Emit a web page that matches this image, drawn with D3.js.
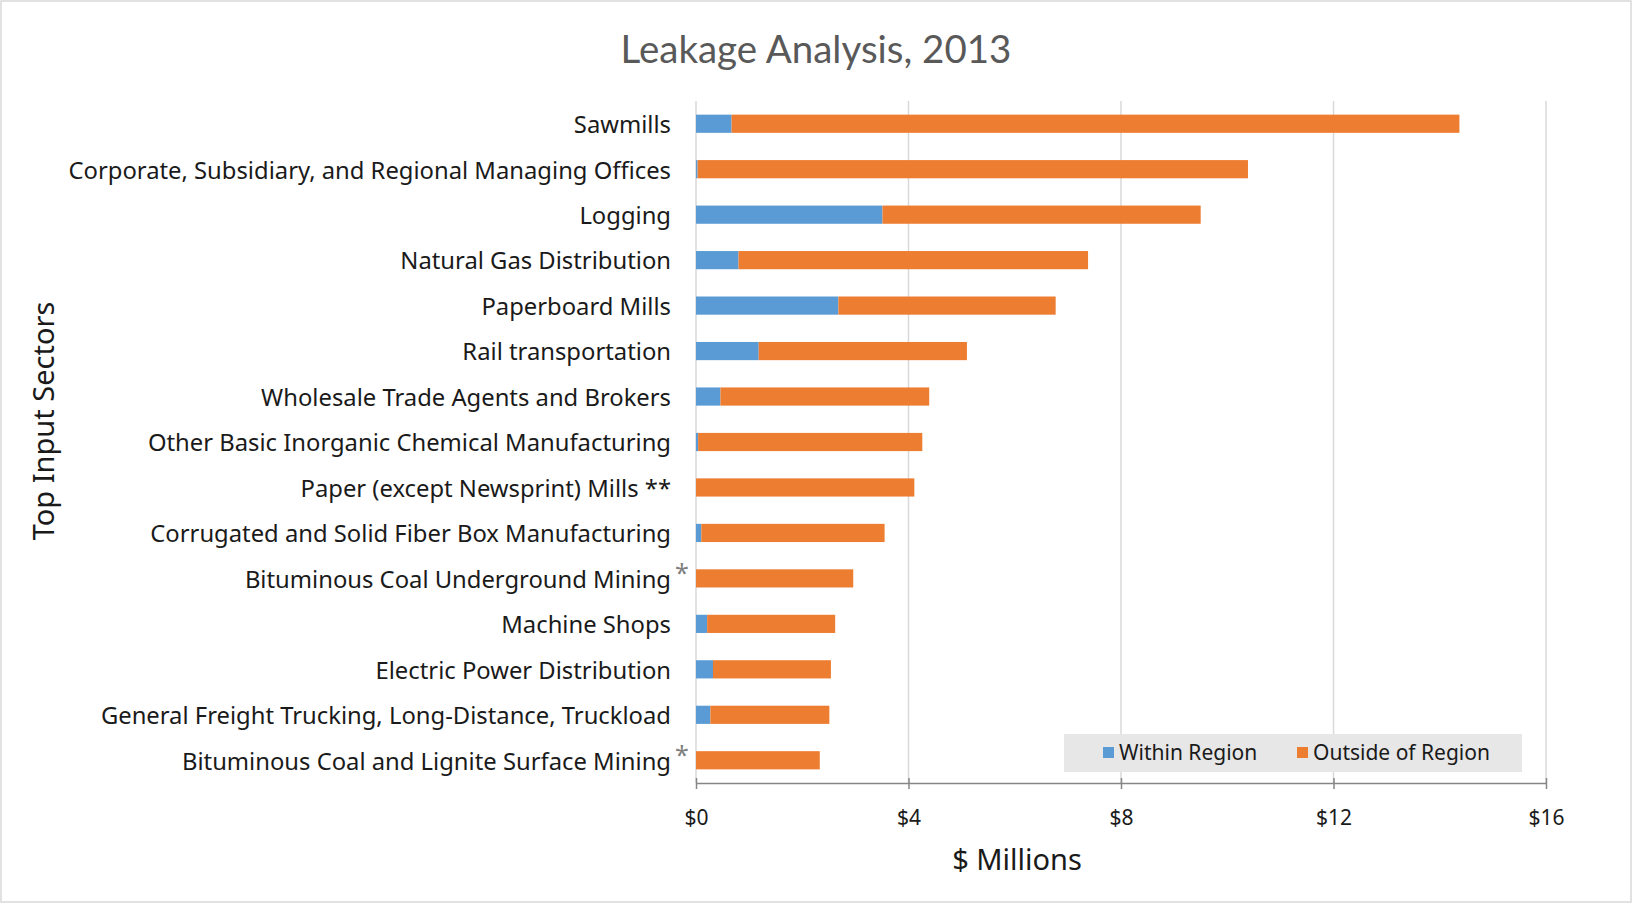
<!DOCTYPE html>
<html>
<head>
<meta charset="utf-8">
<script src="https://cdn.jsdelivr.net/npm/d3@7"></script>
<style>
  body { margin: 0; background: #fff; }
  text { font-family: "Noto Sans", Roboto, sans-serif; }
</style>
</head>
<body>
<div id="chart"></div>
<script>
// data
const sectors = [
  'Sawmills',
  'Corporate, Subsidiary, and Regional Managing Offices',
  'Logging',
  'Natural Gas Distribution',
  'Paperboard Mills',
  'Rail transportation',
  'Wholesale Trade Agents and Brokers',
  'Other Basic Inorganic Chemical Manufacturing',
  'Paper (except Newsprint) Mills',
  'Corrugated and Solid Fiber Box Manufacturing',
  'Bituminous Coal Underground Mining',
  'Machine Shops',
  'Electric Power Distribution',
  'General Freight Trucking, Long-Distance, Truckload',
  'Bituminous Coal and Lignite Surface Mining'
];
const notes = ['', '', '', '', '', '', '', '', '**', '', '*', '', '', '', '*'];
const withinRegion = [0.67, 0.03, 3.51, 0.80, 2.68, 1.18, 0.46, 0.04, 0, 0.10, 0, 0.21, 0.32, 0.27, 0];
const totalLeakage = [14.37, 10.39, 9.50, 7.38, 6.77, 5.10, 4.39, 4.26, 4.11, 3.55, 2.96, 2.62, 2.54, 2.51, 2.33];
const xTicks = [0, 4, 8, 12, 16];
const seriesNames = ['Within Region', 'Outside of Region'];
const colors = ['#5b9bd5', '#ed7d31'];

const W = 1632, H = 903;
const margin = { top: 101, right: 86, bottom: 120, left: 696 };
const width = W - margin.left - margin.right;
const height = H - margin.top - margin.bottom;

const svg = d3.select('#chart').append('svg')
  .attr('width', W)
  .attr('height', H);

svg.append('rect')
  .attr('x', 1).attr('y', 1)
  .attr('width', W - 2).attr('height', H - 2)
  .attr('fill', '#fff')
  .attr('stroke', '#d9d9d9')
  .attr('stroke-width', 1.5);

const g = svg.append('g')
  .attr('transform', `translate(${margin.left},${margin.top})`);

const x = d3.scaleLinear().domain([0, 16]).range([0, width]);
const y = d3.scaleBand().domain(sectors).range([0, height])
  .paddingInner(0.6).paddingOuter(0.3);

// gridlines
g.selectAll('.grid')
  .data(xTicks)
  .enter().append('line')
  .attr('x1', d => x(d)).attr('x2', d => x(d))
  .attr('y1', 0).attr('y2', height)
  .attr('stroke', '#d9d9d9')
  .attr('stroke-width', 1.5);

// stacked bars
const rows = sectors.map((s, i) => ({ sector: s, within: withinRegion[i], outside: totalLeakage[i] - withinRegion[i] }));
const stacked = d3.stack().keys(['within', 'outside'])(rows);

g.selectAll('.series')
  .data(stacked)
  .enter().append('g')
  .attr('fill', (d, i) => colors[i])
  .selectAll('rect')
  .data(d => d)
  .enter().append('rect')
  .attr('x', d => x(d[0]))
  .attr('y', d => y(d.data.sector))
  .attr('width', d => Math.max(0, x(d[1]) - x(d[0])))
  .attr('height', y.bandwidth());

// x axis
const xAxis = g.append('g')
  .attr('transform', `translate(0,${height})`)
  .call(d3.axisBottom(x).tickValues(xTicks).tickFormat(d => '$' + d).tickSize(6).tickSizeOuter(0));
xAxis.select('.domain').attr('stroke', '#868686').attr('stroke-width', 1.5);
xAxis.selectAll('.tick line').attr('stroke', '#868686').attr('stroke-width', 1.5).attr('y1', -5).attr('y2', 6);
xAxis.selectAll('.tick text')
  .attr('y', 35).attr('dy', '0.35em')
  .attr('fill', '#1a1a1a')
  .style('font-family', '"Noto Sans", sans-serif')
  .style('font-size', '21px');

// category labels
const labels = g.selectAll('.cat')
  .data(sectors)
  .enter().append('text')
  .attr('x', -25)
  .attr('y', d => y(d) + y.bandwidth() / 2 + 1)
  .attr('dy', '0.35em')
  .attr('text-anchor', 'end')
  .attr('fill', '#1a1a1a')
  .style('font-size', '23.8px')
  .text(d => d);

// footnote marks
labels.each(function(d, i) {
  if (notes[i] === '**') {
    d3.select(this).text(d + ' **');
  }
});
g.selectAll('.note')
  .data(sectors.filter((d, i) => notes[i] === '*'))
  .enter().append('text')
  .attr('x', -21)
  .attr('y', d => y(d) + y.bandwidth() / 2 + 4)
  .attr('fill', '#7f7f7f')
  .style('font-size', '25px')
  .text('*');

// legend
const legend = svg.append('g').attr('transform', 'translate(1064,734)');
legend.append('rect')
  .attr('width', 458).attr('height', 38)
  .attr('fill', '#e7e7e7');
const legX = [39, 233];
seriesNames.forEach((name, i) => {
  legend.append('rect')
    .attr('x', legX[i]).attr('y', 13)
    .attr('width', 11).attr('height', 11)
    .attr('fill', colors[i]);
  legend.append('text')
    .attr('x', legX[i] + 16).attr('y', 19)
    .attr('dy', '0.35em')
    .attr('fill', '#1a1a1a')
    .style('font-size', '21px')
    .text(name);
});

// title and axis titles
svg.append('text')
  .attr('x', 816).attr('y', 50)
  .attr('dy', '0.35em')
  .attr('text-anchor', 'middle')
  .attr('fill', '#595959')
  .style('font-family', 'Lato, "Open Sans", sans-serif')
  .style('font-size', '38.5px')
  .text('Leakage Analysis, 2013');

svg.append('text')
  .attr('x', 1017).attr('y', 860)
  .attr('dy', '0.35em')
  .attr('text-anchor', 'middle')
  .attr('fill', '#1a1a1a')
  .style('font-size', '29px')
  .text('$ Millions');

svg.append('text')
  .attr('transform', 'rotate(-90)')
  .attr('x', -421).attr('y', 44)
  .attr('dy', '0.35em')
  .attr('text-anchor', 'middle')
  .attr('fill', '#1a1a1a')
  .style('font-size', '29px')
  .text('Top Input Sectors');
</script>
</body>
</html>
